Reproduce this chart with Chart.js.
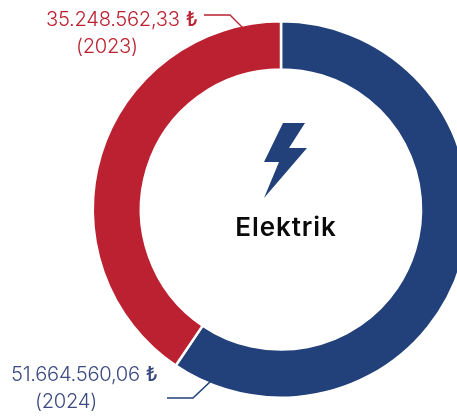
<!DOCTYPE html>
<html><head><meta charset="utf-8">
<script src="https://cdn.jsdelivr.net/npm/chart.js@4"></script>
<style>
html,body{margin:0;padding:0;background:#fff;overflow:hidden;width:457px;height:417px}
#wrap{position:relative;width:457px;height:417px;overflow:hidden}
canvas{position:absolute;left:0;top:0}
.l{position:absolute;font-family:Inter,sans-serif;font-weight:300;font-size:20.2px;line-height:27px;white-space:nowrap;letter-spacing:-0.3px}
.l b{font-weight:500;margin-left:6px;font-size:20px}
svg{position:absolute;left:0;top:0;pointer-events:none}
#center{position:absolute;left:181px;width:210px;top:211px;text-align:center;font-family:Inter,sans-serif;font-weight:600;font-size:26px;line-height:32px;color:#0a0a0a;letter-spacing:.9px}
</style></head><body>
<div id="wrap">
<canvas id="c" width="562" height="419" style="width:562px;height:419px"></canvas>
<svg width="457" height="417">
<path d="M204 15H230L246 31" fill="none" stroke="#bb2130" stroke-width="1.3"/>
<path d="M167 398H193L211 381" fill="none" stroke="#22407a" stroke-width="1.6"/>
<path d="M283 123H305L289 148H307L264 198L279 162H264Z" fill="#22407a"/>
</svg>
<div class="l" style="left:46px;top:5px;color:#bb2130" id="a1"></div>
<div class="l" style="left:76px;top:32px;color:#bb2130" id="a2"></div>
<div class="l" style="left:11px;top:360px;color:#3b4a80" id="b1"></div>
<div class="l" style="left:35px;top:387px;color:#3b4a80" id="b2"></div>
<div id="center"></div>
</div>
<script>
const categories = ['2024', '2023'];
const values = [51664560.06, 35248562.33];
const valueLabels = ['51.664.560,06', '35.248.562,33'];
const currency = '₺';
const colors = ['#22407a', '#bb2130'];
const title = 'Elektrik';
document.getElementById('a1').innerHTML = valueLabels[1] + '<b>' + currency + '</b>';
document.getElementById('a2').textContent = '(' + categories[1] + ')';
document.getElementById('b1').innerHTML = valueLabels[0] + '<b>' + currency + '</b>';
document.getElementById('b2').textContent = '(' + categories[0] + ')';
document.getElementById('center').textContent = title;
new Chart(document.getElementById('c'), {
  type: 'doughnut',
  data: { labels: categories, datasets: [{ data: values, backgroundColor: colors, borderColor: '#fff', borderWidth: 2.5 }] },
  options: {
    responsive: false, animation: false, cutout: '74.4%',
    layout: { padding: 20 },
    plugins: { legend: { display: false }, tooltip: { enabled: false } }
  }
});
</script>
</body></html>
